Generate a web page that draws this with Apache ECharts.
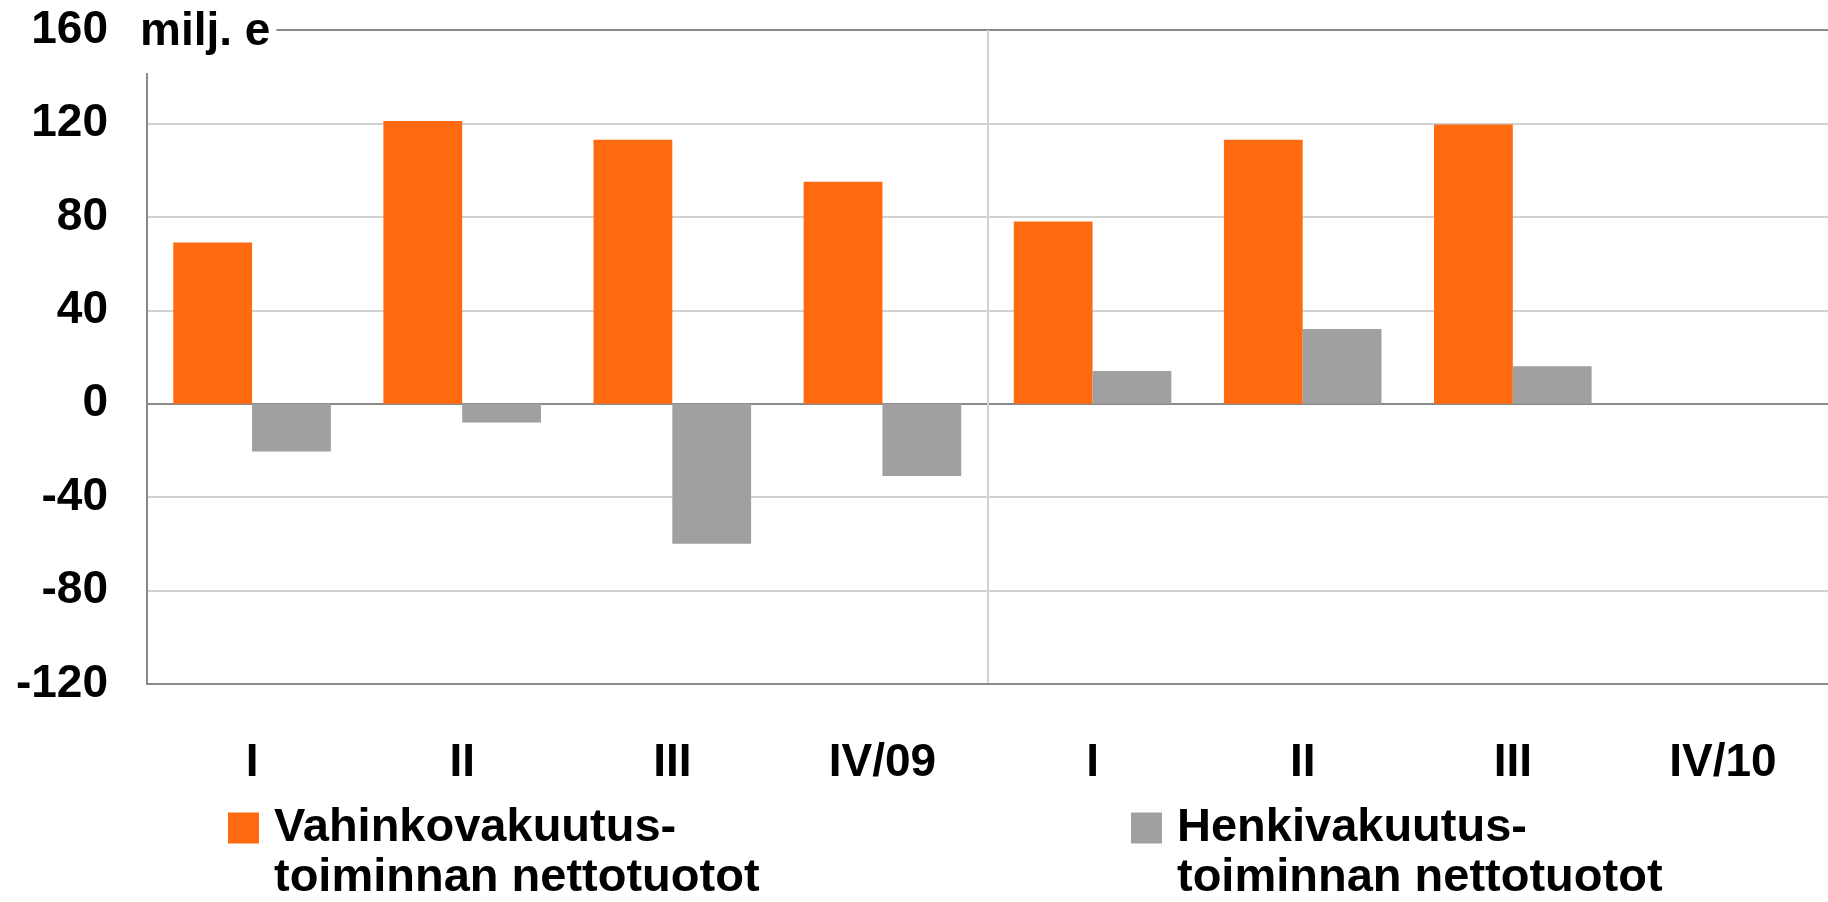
<!DOCTYPE html>
<html>
<head>
<meta charset="utf-8">
<script src="https://cdn.jsdelivr.net/npm/echarts@6/dist/echarts.min.js"></script>
<style>
  html, body { margin: 0; padding: 0; background: #fff; }
  #chart { width: 1828px; height: 902px; }
</style>
</head>
<body>
<div id="chart"></div>
<script>
// ---- data ----
const categories = ['I', 'II', 'III', 'IV/09', 'I', 'II', 'III', 'IV/10'];
const vahinkoName = 'Vahinkovakuutus-\ntoiminnan nettotuotot';
const henkiName = 'Henkivakuutus-\ntoiminnan nettotuotot';
const vahinkoValues = [69, 121, 113, 95, 78, 113, 119.5, null];
const henkiValues = [-20.5, -8, -60, -31, 14, 32, 16, null];
const unitLabel = 'milj. e';
const yMin = -120, yMax = 160, yStep = 40;
const yearBoundaryIndex = 4; // split between 2009 and 2010 quarters

const FONT = '"Liberation Sans", Arial, sans-serif';
const ORANGE = '#FF6A10';
const GREY = '#A0A0A0';
const DARK = '#8A8A8A';
const LIGHT = '#D2D2D2';
const LH = 50;

const chart = echarts.init(document.getElementById('chart'), null, { renderer: 'canvas' });

const legendText = { fontFamily: FONT, fontSize: 47, fontWeight: 'bold', color: '#000', lineHeight: LH, padding: [0, 0, 0, 10] };

// one colour per category boundary line; only the year boundary is visible
const xSplitColors = [];
for (let i = 0; i <= categories.length; i++) {
  xSplitColors.push(i === yearBoundaryIndex ? LIGHT : 'rgba(0,0,0,0)');
}

chart.setOption({
  animation: false,
  backgroundColor: '#fff',
  textStyle: { fontFamily: FONT },
  title: {
    text: unitLabel,
    left: 135,
    top: 0,
    padding: [7, 6, 16, 5],
    backgroundColor: '#fff',
    z: 10,
    textStyle: { fontFamily: FONT, fontSize: 46, fontWeight: 'bold', color: '#000', lineHeight: 50 }
  },
  grid: { left: 147, right: -5, top: 30, bottom: 218, containLabel: false },
  legend: [
    {
      data: [vahinkoName],
      left: 228, top: 753, padding: 0,
      icon: 'rect', itemWidth: 31, itemHeight: 31,
      formatter: function (n) { return '\n' + n; },
      textStyle: legendText
    },
    {
      data: [henkiName],
      left: 1131, top: 753, padding: 0,
      icon: 'rect', itemWidth: 31, itemHeight: 31,
      formatter: function (n) { return '\n' + n; },
      textStyle: legendText
    }
  ],
  xAxis: {
    type: 'category',
    data: categories,
    boundaryGap: true,
    axisLine: { show: true, onZero: false, lineStyle: { color: DARK, width: 2 } },
    axisTick: { show: false },
    axisLabel: { margin: 56, interval: 0, fontFamily: FONT, fontSize: 46, fontWeight: 'bold', color: '#000' },
    splitLine: {
      show: true,
      interval: 0,
      lineStyle: { color: xSplitColors, width: 2 }
    }
  },
  yAxis: {
    type: 'value',
    min: yMin, max: yMax, interval: yStep,
    axisLine: { show: true, lineStyle: { color: DARK, width: 2 } },
    axisTick: { show: false },
    axisLabel: { margin: 39, fontFamily: FONT, fontSize: 46, fontWeight: 'bold', color: '#000' },
    splitLine: {
      show: true,
      lineStyle: { color: [DARK, LIGHT, LIGHT, DARK, LIGHT, LIGHT, LIGHT, DARK], width: 2 }
    }
  },
  series: [
    {
      name: vahinkoName, type: 'bar', data: vahinkoValues,
      itemStyle: { color: ORANGE },
      barGap: '0%', barCategoryGap: '25%'
    },
    {
      name: henkiName, type: 'bar', data: henkiValues,
      itemStyle: { color: GREY },
      barGap: '0%', barCategoryGap: '25%'
    }
  ]
});
</script>
</body>
</html>
